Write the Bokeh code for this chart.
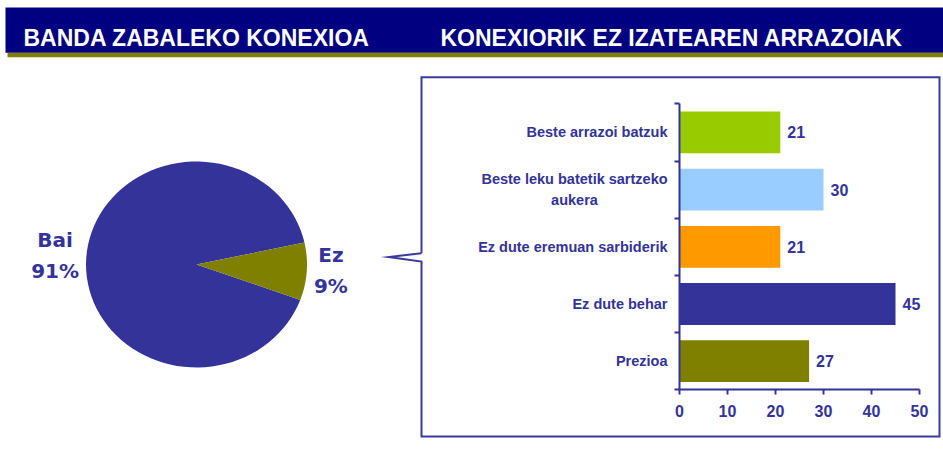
import math
from bokeh.plotting import figure
from bokeh.models import Range1d, LinearAxis, FixedTicker, ColumnDataSource
from bokeh.core.properties import value
from bokeh.embed import file_html
from bokeh.resources import INLINE

# ---------------- data ----------------
header_titles = ["BANDA ZABALEKO KONEXIOA", "KONEXIORIK EZ IZATEAREN ARRAZOIAK"]

pie_labels = ["Bai", "Ez"]
pie_values = [91, 9]
pie_colors = ["#333399", "#808000"]

bar_categories = [
    "Beste arrazoi batzuk",
    "Beste leku batetik sartzeko\naukera",
    "Ez dute eremuan sarbiderik",
    "Ez dute behar",
    "Prezioa",
]
bar_values = [21, 30, 21, 45, 27]
bar_colors = ["#99CC00", "#99CCFF", "#FF9900", "#333399", "#808000"]
x_ticks = [0, 10, 20, 30, 40, 50]

# ---------------- layout constants (page pixels) ----------------
W, H = 943, 452
X0, X1, Y0, Y1 = 0, W, 0, H
TXT = "#333399"
NAVY = "#000080"
OLIVE = "#808000"
FRAME = "#3a3a9c"

p = figure(width=W, height=H, x_range=Range1d(X0, X1), y_range=Range1d(Y1, Y0),
           output_backend="svg", toolbar_location=None, min_border=0,
           x_axis_location=None, y_axis_location=None, outline_line_color=None,
           background_fill_color="white", border_fill_color="white")
p.grid.visible = False

# header band
p.quad(left=7, right=943, top=52.3, bottom=56.7, fill_color=OLIVE, line_color=None)
p.quad(left=5, right=943, top=7, bottom=52.3, fill_color=NAVY, line_color=None)
p.text(x=[23, 440], y=[37.5, 37.5], text=header_titles, text_color="white",
       text_font=value("Liberation Sans"), text_font_style="bold",
       text_font_size="23px", text_baseline="alphabetic", text_align="left")

# pie (drawn as elliptical slices computed from the values)
cx, cy, rx, ry = 196, 264, 110.5, 103
start_deg = 12.3
PIE_FS = 20
total = float(sum(pie_values))


def est_width(s):
    return sum(1.0 if ch == "%" else 0.7 for ch in s) * PIE_FS


a = start_deg
pxs, pys, lxs, lys, ltxt, loff = [], [], [], [], [], []
for name, v in zip(pie_labels, pie_values):
    sweep = v / total * 360.0
    angs = [math.radians(a + sweep * k / 90.0) for k in range(91)]
    pxs.append([cx] + [cx + rx * math.cos(t) for t in angs])
    pys.append([cy] + [cy - ry * math.sin(t) for t in angs])
    mid = math.radians(a + sweep / 2.0)
    lxs.append(cx + 1.065 * rx * math.cos(mid))
    lys.append(cy - 1.1 * ry * math.sin(mid))
    pct = f"{v}%"
    half = max(est_width(name), est_width(pct)) / 2.0
    loff.append(half if math.cos(mid) >= 0 else -half)
    ltxt.append(f"{name}\n{pct}")
    a += sweep
p.patches(xs=pxs, ys=pys, fill_color=pie_colors, line_color=None)
p.text(x=lxs, y=lys, text=ltxt, x_offset=loff, y_offset=-1.5, text_color=TXT,
       text_font=value("DejaVu Sans"), text_font_style="bold",
       text_font_size=f"{PIE_FS}px", text_align="center",
       text_baseline="middle", text_line_height=1.3)

# callout box frame (with notch pointing to the pie)
bl, bt, br, bb = 421, 76.7, 939, 436
nt, nb, tipx, tipy = 252.7, 261, 388.3, 256.5
p.line(x=[bl, bl, br, br, bl, bl, tipx, bl],
       y=[nt, bt, bt, bb, bb, nb, tipy, nt],
       line_color=FRAME, line_width=2, line_join="miter")

# ---------------- bar chart inside the box ----------------
bx0, bx1 = 679, 919        # page x of value 0 and of the last tick
by0, by1 = 389.3, 103.3    # page y of the bottom and top of the category axis
xmax = x_ticks[-1]
n = len(bar_categories)
ppx = (bx1 - bx0) / xmax
ppy = (by0 - by1) / n
p.extra_x_ranges = {"bx": Range1d(-(bx0 - X0) / ppx, xmax + (X1 - bx1) / ppx)}
p.extra_y_ranges = {"by": Range1d(-(Y1 - by0) / ppy, n + (by1 - Y0) / ppy)}

ypos = [n - i - 0.5 for i in range(n)]
src = ColumnDataSource(dict(
    y=ypos, v=bar_values, color=bar_colors, cat=bar_categories,
    vtxt=[str(v) for v in bar_values],
    align=["center" if "\n" in c else "right" for c in bar_categories],
    xoff=[-105 if "\n" in c else -12 for c in bar_categories],
))
p.hbar(y="y", left=0, right="v", height=0.73, fill_color="color", line_color=None,
       source=src, x_range_name="bx", y_range_name="by")

p.text(x=0, y="y", text="cat", source=src, x_range_name="bx", y_range_name="by",
       x_offset="xoff", text_align="align", text_baseline="middle",
       text_color=TXT, text_font=value("Liberation Sans"), text_font_style="bold",
       text_font_size="14.5px", text_line_height=1.3)
p.text(x="v", y="y", text="vtxt", source=src, x_range_name="bx", y_range_name="by",
       x_offset=7, text_align="left", text_baseline="middle",
       text_color=TXT, text_font=value("Liberation Sans"), text_font_style="bold",
       text_font_size="16px")

# category axis: only the boundary ticks (as minor ticks), no labels
yax = LinearAxis(x_range_name="bx", y_range_name="by", fixed_location=0,
                 bounds=(0, n),
                 ticker=FixedTicker(ticks=[], minor_ticks=list(range(n + 1))),
                 major_tick_line_color=None,
                 minor_tick_in=0, minor_tick_out=5,
                 minor_tick_line_color=TXT, minor_tick_line_width=2,
                 axis_line_color=TXT, axis_line_width=2)
p.add_layout(yax, "left")

xax = LinearAxis(x_range_name="bx", y_range_name="by", fixed_location=0,
                 bounds=(0, xmax), ticker=FixedTicker(ticks=x_ticks),
                 major_tick_in=0, major_tick_out=5, minor_tick_line_color=None,
                 axis_line_color=TXT, axis_line_width=2,
                 major_tick_line_color=TXT, major_tick_line_width=2,
                 major_label_standoff=10, major_label_text_color=TXT,
                 major_label_text_font="Liberation Sans",
                 major_label_text_font_style="bold",
                 major_label_text_font_size="16px")
p.add_layout(xax, "below")

open("out.html", "w").write(file_html(p, INLINE))
